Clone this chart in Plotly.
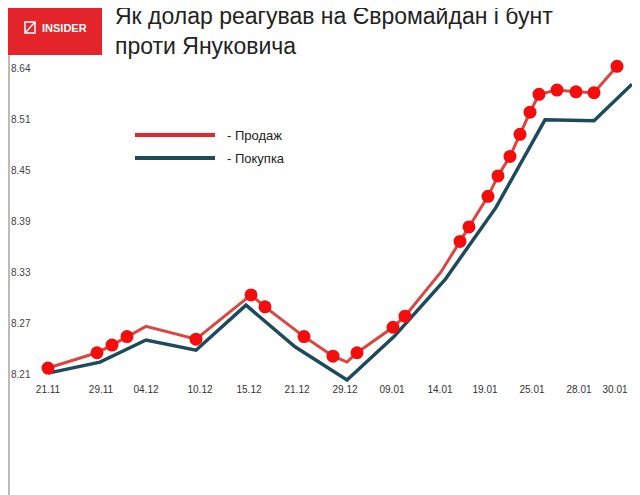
import plotly.graph_objects as go

# x positions along the (non-linear) date axis, y values in UAH
tick_x = [48, 101, 146, 200, 249, 297, 345, 392, 440, 485, 532, 579, 615]
tick_dates = ['21.11', '29.11', '04.12', '10.12', '15.12', '21.12', '29.12',
              '09.01', '14.01', '19.01', '25.01', '28.01', '30.01']
y_ticks = [8.21, 8.27, 8.33, 8.39, 8.45, 8.51, 8.57]
y_labels = ['8.21', '8.27', '8.33', '8.39', '8.45', '8.51', '8.64']

sell_x = [48, 97, 112, 127, 146, 196, 251, 265, 304, 333, 347, 357, 393, 405,
          441, 460, 469, 488, 498, 510, 520, 530, 539, 557, 576, 594, 617]
sell_y = [8.217, 8.235, 8.244, 8.254, 8.266, 8.251, 8.303, 8.289, 8.254, 8.231,
          8.224, 8.235, 8.265, 8.278, 8.330, 8.366, 8.383, 8.419, 8.443, 8.466,
          8.492, 8.518, 8.539, 8.544, 8.542, 8.541, 8.572]
sell_marked = [True, True, True, True, False, True, True, True, True, True,
               False, True, True, True, False, True, True, True, True, True,
               True, True, True, True, True, True, True]

buy_x = [48, 100, 146, 196, 246, 295, 347, 394, 445, 496, 545, 594, 632]
buy_y = [8.211, 8.224, 8.250, 8.238, 8.291, 8.242, 8.203, 8.254, 8.321, 8.406,
         8.509, 8.508, 8.551]

W, H = 640, 495
# page is offset by the 8px body margin; plot spans screen x 8..640, y 55..382
L, T, B = 8, 55, 382
OFF = 8


def px(p):
    return (p - L) / (W - L)


def py(p):
    return (B - p) / (B - T)


fig = go.Figure()

fig.add_trace(go.Scatter(x=buy_x, y=buy_y, mode='lines',
                         line=dict(color='#1d4b5c', width=3.5), hoverinfo='skip'))
fig.add_trace(go.Scatter(x=sell_x, y=sell_y, mode='lines',
                         line=dict(color='#dc4640', width=3), hoverinfo='skip'))
fig.add_trace(go.Scatter(
    x=[x for x, m in zip(sell_x, sell_marked) if m],
    y=[y for y, m in zip(sell_y, sell_marked) if m],
    mode='markers', marker=dict(color='#f40d0d', size=13), hoverinfo='skip'))

shapes = [
    # logo block
    dict(type='rect', xref='paper', yref='paper', x0=px(8), x1=px(102), y0=py(55), y1=py(8),
         fillcolor='#e3252b', line_width=0, layer='above'),
    dict(type='rect', xref='paper', yref='paper', x0=px(25), x1=px(35), y0=py(33), y1=py(22),
         line=dict(color='white', width=1.5)),
    dict(type='line', xref='paper', yref='paper', x0=px(25), x1=px(35), y0=py(33), y1=py(22),
         line=dict(color='white', width=1.5)),
    # left rule
    dict(type='line', xref='paper', yref='paper', x0=px(9), x1=px(9), y0=py(495), y1=py(55),
         line=dict(color='#777', width=1)),
    # legend swatches
    dict(type='line', xref='paper', yref='paper', x0=px(135), x1=px(215), y0=py(135), y1=py(135),
         line=dict(color='#e8252a', width=4)),
    dict(type='line', xref='paper', yref='paper', x0=px(135), x1=px(215), y0=py(158), y1=py(158),
         line=dict(color='#1d4b5c', width=4)),
]

annotations = [
    dict(text='<b>INSIDER</b>', xref='paper', yref='paper', x=px(40), y=py(28),
         xanchor='left', yanchor='middle', showarrow=False,
         font=dict(color='white', size=11, family='Liberation Sans')),
    dict(text='Як долар реагував на Євромайдан і бунт<br>проти Януковича',
         xref='paper', yref='paper', x=px(113), y=py(1), xanchor='left', yanchor='top',
         align='left', showarrow=False,
         font=dict(color='#222', size=23, family='Liberation Sans')),
    dict(text='- Продаж', xref='paper', yref='paper', x=px(225), y=py(135),
         xanchor='left', yanchor='middle', showarrow=False,
         font=dict(color='#222', size=13, family='Liberation Sans')),
    dict(text='- Покупка', xref='paper', yref='paper', x=px(225), y=py(158),
         xanchor='left', yanchor='middle', showarrow=False,
         font=dict(color='#222', size=13, family='Liberation Sans')),
]

fig.update_layout(
    width=W, height=H,
    margin=dict(l=0, r=OFF, t=T - OFF, b=H - B + OFF),
    paper_bgcolor='white', plot_bgcolor='white',
    showlegend=False,
    shapes=shapes, annotations=annotations,
    font=dict(family='Liberation Sans', color='#333', size=10),
)
fig.update_xaxes(range=[L, W], tickvals=tick_x, ticktext=tick_dates, showgrid=False,
                 zeroline=False, showline=False, ticks='', tickfont=dict(size=10))
fig.update_yaxes(range=[8.21 + (374 - B) * 0.06 / 51, 8.21 + (374 - T) * 0.06 / 51],
                 tickvals=y_ticks, ticktext=y_labels, ticklabelposition='inside',
                 showgrid=False, zeroline=False, showline=False, ticks='',
                 tickfont=dict(size=10))

fig.write_html("out.html")
